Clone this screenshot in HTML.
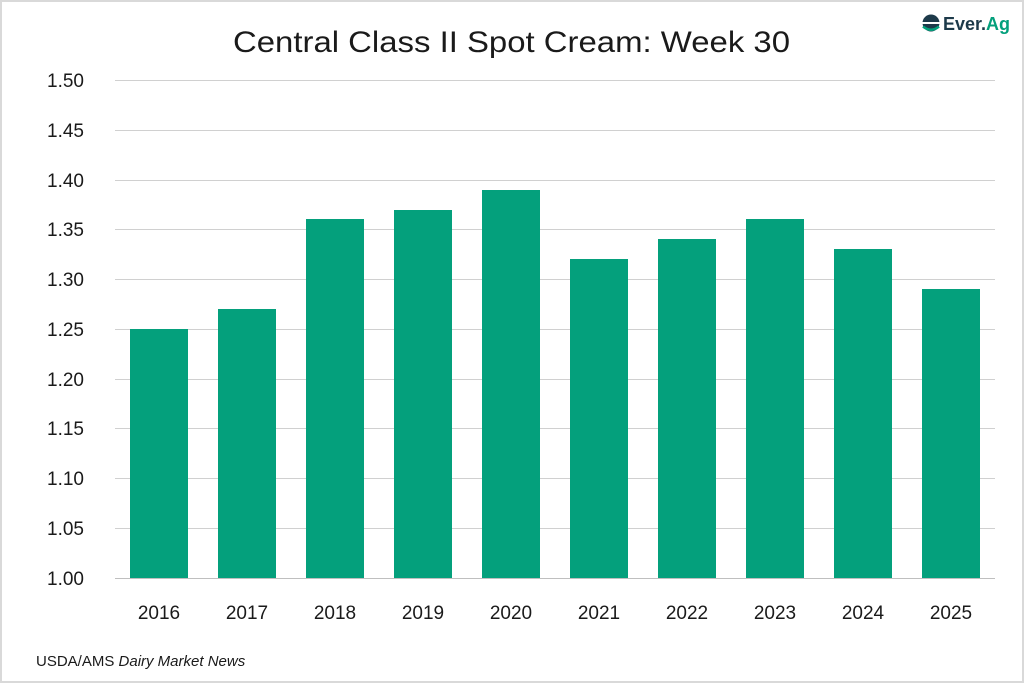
<!DOCTYPE html>
<html><head><meta charset="utf-8"><style>
html,body{margin:0;padding:0;background:#fff}
svg{display:block}
text{font-family:"Liberation Sans",sans-serif;fill:#1a1a1a}
</style></head><body>
<svg width="1024" height="683" viewBox="0 0 1024 683" xmlns="http://www.w3.org/2000/svg">
<rect x="1" y="1" width="1022" height="681" fill="#fff" stroke="#d9d9d9" stroke-width="2"/>
<text x="233" y="52" font-size="30" textLength="557" lengthAdjust="spacingAndGlyphs">Central Class II Spot Cream: Week 30</text>
<g stroke="#d0d0d0" stroke-width="1">
<line x1="115" x2="995" y1="80.5" y2="80.5"/>
<line x1="115" x2="995" y1="130.5" y2="130.5"/>
<line x1="115" x2="995" y1="180.5" y2="180.5"/>
<line x1="115" x2="995" y1="229.5" y2="229.5"/>
<line x1="115" x2="995" y1="279.5" y2="279.5"/>
<line x1="115" x2="995" y1="329.5" y2="329.5"/>
<line x1="115" x2="995" y1="379.5" y2="379.5"/>
<line x1="115" x2="995" y1="428.5" y2="428.5"/>
<line x1="115" x2="995" y1="478.5" y2="478.5"/>
<line x1="115" x2="995" y1="528.5" y2="528.5"/>
</g>
<g fill="#04a07c">
<rect x="130" y="329" width="58" height="249"/>
<rect x="218" y="309" width="58" height="269"/>
<rect x="306" y="219" width="58" height="359"/>
<rect x="394" y="210" width="58" height="368"/>
<rect x="482" y="190" width="58" height="388"/>
<rect x="570" y="259" width="58" height="319"/>
<rect x="658" y="239" width="58" height="339"/>
<rect x="746" y="219" width="58" height="359"/>
<rect x="834" y="249" width="58" height="329"/>
<rect x="922" y="289" width="58" height="289"/>
</g>
<line x1="115" x2="995" y1="578.5" y2="578.5" stroke="#bfbfbf" stroke-width="1"/>
<g font-size="19" text-anchor="end">
<text x="84" y="87">1.50</text><text x="84" y="137">1.45</text><text x="84" y="187">1.40</text>
<text x="84" y="236">1.35</text><text x="84" y="286">1.30</text><text x="84" y="336">1.25</text>
<text x="84" y="386">1.20</text><text x="84" y="435">1.15</text><text x="84" y="485">1.10</text>
<text x="84" y="535">1.05</text><text x="84" y="585">1.00</text>
</g>
<g font-size="19" text-anchor="middle">
<text x="159" y="619">2016</text><text x="247" y="619">2017</text><text x="335" y="619">2018</text>
<text x="423" y="619">2019</text><text x="511" y="619">2020</text><text x="599" y="619">2021</text>
<text x="687" y="619">2022</text><text x="775" y="619">2023</text><text x="863" y="619">2024</text>
<text x="951" y="619">2025</text>
</g>
<text x="36" y="666" font-size="15">USDA/AMS <tspan font-style="italic">Dairy Market News</tspan></text>
<g>
<circle cx="931" cy="23" r="8.5" fill="#1d3a4a"/>
<rect x="922" y="22" width="18" height="2" fill="#fff"/>
<path d="M923 26.5 Q931 33 939 26.5" stroke="#04a07c" stroke-width="2.5" fill="none"/>
<text x="943" y="30" font-size="18" font-weight="bold" textLength="67" lengthAdjust="spacingAndGlyphs" style="fill:#1d3a4a">Ever.<tspan style="fill:#04a07c">Ag</tspan></text>
</g>
</svg>
</body></html>
